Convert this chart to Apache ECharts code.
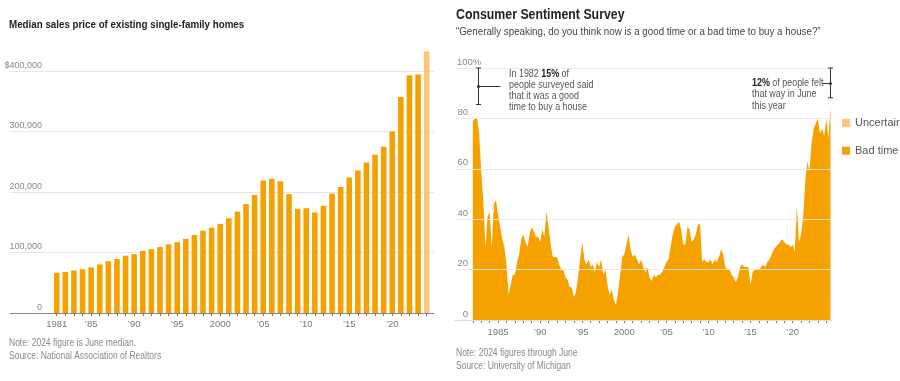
<!DOCTYPE html>
<html><head><meta charset="utf-8">
<script src="https://cdn.jsdelivr.net/npm/echarts@6/dist/echarts.min.js"></script>
<style>html,body{margin:0;padding:0;background:#fff}#c{width:900px;height:381px}</style>
</head><body><div id="c"></div>
<script>
// ---------- Left chart: median sales price ----------
const priceYears = [1981,1982,1983,1984,1985,1986,1987,1988,1989,1990,1991,1992,1993,1994,1995,1996,1997,1998,1999,2000,2001,2002,2003,2004,2005,2006,2007,2008,2009,2010,2011,2012,2013,2014,2015,2016,2017,2018,2019,2020,2021,2022,2023,2024];
const medianPrice = [66400,67800,70300,72400,75500,80300,85600,89300,94600,97300,102700,105500,109100,113500,117000,122600,129000,136000,141200,147300,156600,167600,180200,195200,219000,221900,217900,196600,172100,173100,166200,177200,197400,208300,223900,235500,248800,261600,274600,300200,357100,392900,394100,432700];
const priceLabelYears = [1981,1985,1990,1995,2000,2005,2010,2015,2020];

// ---------- Right chart: consumer sentiment (quarterly, from 1982) ----------
const sentimentStartYear = 1982;
const badTime = [
 79,80,80.5,74, 59,47,29,41, 43,29,46,47.5, 42,37,32,29, 22,10,14,18,
 18,23,26,32, 34,31,29,34, 37,35,33,33, 31,36,33,43, 37,30,25,25,
 25,22,20,20, 17,16,13,13, 9,11,17,24, 31,24,22,24, 21,22,19,23,
 21,24,18,20, 14,10,12,8, 6,11,18,25, 26,30,34,28, 25,26,24,22,
 24,21,19,21, 17,15.5,18,17, 18,18,19,21, 23,24,29,34, 37,38,39,36,
 30,30,37,36, 31,32,34,38, 38,23,24,23, 23,24,22,24, 23,25,28,26,
 21,20,20,18, 17,15,17,21, 22,21,21,21, 14,19,20,20, 20,21,22,21,
 23,24,26,28, 29,30,31,32, 31,30,30,29, 30,27,45,31, 34,41,55,63,
 59,70,76,78, 80,74,76,73, 80,72,84];
const uncertain = [
 3,3,4,3, 4,3,3,4, 3,3,4,4, 3,3,2,3, 2,2,3,2,
 3,2,3,4, 3,3,4,3, 4,3,3,4, 3,4,3,5, 4,3,3,3,
 3,2,3,2, 3,2,3,2, 2,3,3,4, 4,3,3,4, 3,3,3,4,
 4,3,3,3, 3,3,3,3, 2,3,4,4, 4,4,5,4, 4,4,3,4,
 4,3,3,4, 3,3,3,3, 3,3,3,3, 3,3,4,4, 4,4,4,4,
 3,4,4,4, 4,3,4,5, 4,3,3,3, 3,3,3,3, 3,3,4,3,
 3,3,2,3, 2,2,3,3, 3,3,3,3, 2,3,3,2, 3,3,2,3,
 3,3,3,3, 3,3,4,4, 3,3,3,3, 3,3,4,3, 3,4,4,4,
 3,4,4,4, 4,3,4,3, 4,3,4];
const sentLabelYears = [1985,1990,1995,2000,2005,2010,2015,2020];
const sentTickYears = [1982,1983,1984,1985,1986,1987,1988,1989,1990,1991,1992,1993,1994,1995,1996,1997,1998,1999,2000,2001,2002,2003,2004,2005,2006,2007,2008,2009,2010,2011,2012,2013,2014,2015,2016,2017,2018,2019,2020,2021,2022,2023,2024];
// annotation brackets: [year, top-of-stack %, side]
const goodTimeBrackets = [[1982.63, 85.5, 1], [2024.47, 88.2, -1]];

const FONT = '"Liberation Sans", Arial, sans-serif';
const ORANGE = '#F5A200';
const LIGHT = '#F9C67B';
const NARROW = 0.85;

const quarterX = badTime.map((_, i) => sentimentStartYear + i * 0.25);

function txt(x, y, style){
  return {type: 'text', x: x, y: y, scaleX: NARROW, scaleY: 1, silent: true,
          style: Object.assign({x: 0, y: 0, verticalAlign: 'top', align: 'left'}, style)};
}

const chart = echarts.init(document.getElementById('c'), null, {renderer: 'canvas'});
chart.setOption({
  animation: false,
  textStyle: {fontFamily: FONT},
  grid: [
    {left: 10, right: 466, top: 71, bottom: 68},
    {left: 456, right: 69, top: 68, bottom: 61}
  ],
  xAxis: [
    {gridIndex: 0, type: 'value', min: 1975.57, max: 2024.85,
     axisLine: {show: true, lineStyle: {color: '#888', width: 1}},
     axisTick: {show: true, length: 3, lineStyle: {color: '#777'}, customValues: priceYears},
     axisLabel: {show: true, customValues: priceLabelYears, color: '#777', fontSize: 9.5, margin: 6, fontFamily: FONT,
       formatter: v => (v === 1981 || v === 2000) ? String(v) : '\u2019' + String(v).slice(2)},
     splitLine: {show: false}},
    {gridIndex: 1, type: 'value', min: 1980, max: 2024.56,
     axisLine: {show: true, lineStyle: {color: '#888', width: 1}},
     axisTick: {show: true, length: 3, lineStyle: {color: '#777'}, customValues: sentTickYears},
     axisLabel: {show: true, customValues: sentLabelYears, color: '#777', fontSize: 9.5, margin: 7, fontFamily: FONT,
       formatter: v => (v === 1985 || v === 2000) ? String(v) : '\u2019' + String(v).slice(2)},
     splitLine: {show: false}}
  ],
  yAxis: [
    {gridIndex: 0, type: 'value', min: 0, max: 400000, interval: 100000,
     axisLine: {show: false}, axisTick: {show: false},
     axisLabel: {inside: true, align: 'right', margin: 32, verticalAlign: 'bottom', padding: [0,0,1,0],
       color: '#888', fontSize: 9, fontFamily: FONT,
       formatter: v => v === 400000 ? '$400,000' : v.toLocaleString('en-US')},
     splitLine: {show: true, lineStyle: {color: '#e6e6e6', width: 1}}},
    {gridIndex: 1, type: 'value', min: 0, max: 100, interval: 20, z: 5,
     axisLine: {show: false}, axisTick: {show: false},
     axisLabel: {inside: true, align: 'right', margin: 12, verticalAlign: 'bottom', padding: [0,0,1,0],
       color: '#888', fontSize: 9.5, fontFamily: FONT, customValues: [0,20,40,60,80]},
     splitLine: {show: true, lineStyle: {color: 'rgba(232,232,232,0.9)', width: 1}}},
    {gridIndex: 1, type: 'value', min: 0, max: 100, position: 'left',
     axisLine: {show: false}, axisTick: {show: false}, splitLine: {show: false},
     axisLabel: {inside: true, align: 'left', margin: 1, verticalAlign: 'bottom', padding: [0,0,1,0],
       color: '#888', fontSize: 9.5, fontFamily: FONT, customValues: [100], formatter: '{value}%'}}
  ],
  legend: {
    data: ['Uncertain', 'Bad time'], orient: 'vertical', left: 842, top: 116, padding: 0,
    itemWidth: 8, itemHeight: 8, itemGap: 13.7, icon: 'rect', selectedMode: false,
    textStyle: {color: '#555', fontSize: 11, lineHeight: 14, fontFamily: FONT}
  },
  series: [
    {type: 'bar', name: 'Median price', xAxisIndex: 0, yAxisIndex: 0, clip: false, barWidth: 5.6,
     data: priceYears.map((y, i) => [y, medianPrice[i]]),
     itemStyle: {color: p => p.value[0] === 2024 ? LIGHT : ORANGE}},
    {type: 'line', name: 'Bad time', xAxisIndex: 1, yAxisIndex: 1, stack: 'sent', symbol: 'none',
     lineStyle: {width: 0}, areaStyle: {color: ORANGE, opacity: 1}, itemStyle: {color: ORANGE},
     data: quarterX.map((x, i) => [x, badTime[i]])},
    {type: 'line', name: 'Uncertain', xAxisIndex: 1, yAxisIndex: 1, stack: 'sent', symbol: 'none',
     lineStyle: {width: 0}, areaStyle: {color: LIGHT, opacity: 1}, itemStyle: {color: LIGHT},
     data: quarterX.map((x, i) => [x, uncertain[i]])},
    {type: 'custom', name: 'brackets', xAxisIndex: 1, yAxisIndex: 1, silent: true, z: 10, clip: false,
     data: goodTimeBrackets,
     renderItem: function(params, api){
       const x = api.value(0), low = api.value(1), dir = api.value(2);
       const top = api.coord([x, 100]), bot = api.coord([x, low]);
       const cx = Math.round(top[0]) + 0.5;
       const midY = Math.round((top[1] + bot[1]) / 2) + 0.5;
       const len = dir > 0 ? 22 : 8.5;
       const st = {stroke: '#333', lineWidth: 1};
       return {type: 'group', children: [
         {type: 'line', shape: {x1: cx, y1: top[1], x2: cx, y2: bot[1]}, style: st},
         {type: 'line', shape: {x1: cx - 2.5, y1: top[1], x2: cx + 2.5, y2: top[1]}, style: st},
         {type: 'line', shape: {x1: cx - 2.5, y1: bot[1], x2: cx + 2.5, y2: bot[1]}, style: st},
         {type: 'line', shape: {x1: cx, y1: midY, x2: cx + dir * len, y2: midY}, style: st},
         {type: 'circle', shape: {cx: cx, cy: midY, r: 1.6}, style: {fill: '#333'}}
       ]};
     }}
  ],
  graphic: [
    txt(9, 19, {text: 'Median sales price of existing single-family homes', font: 'bold 11.5px ' + FONT, fill: '#222'}),
    txt(456, 7, {text: 'Consumer Sentiment Survey', font: 'bold 14.5px ' + FONT, fill: '#222'}),
    txt(456, 26, {text: '\u201CGenerally speaking, do you think now is a good time or a bad time to buy a house?\u201D', font: '11.5px ' + FONT, fill: '#444'}),
    txt(9, 337, {text: 'Note: 2024 figure is June median.\nSource: National Association of Realtors', font: '10px ' + FONT, fill: '#888', lineHeight: 12.5}),
    txt(456, 347, {text: 'Note: 2024 figures through June\nSource: University of Michigan', font: '10px ' + FONT, fill: '#888', lineHeight: 12.5}),
    txt(509, 69, {
      text: 'In 1982 {b|15%} of\npeople surveyed said\nthat it was a good\ntime to buy a house',
      font: '10.5px ' + FONT, fill: '#555', lineHeight: 11,
      rich: {b: {fontWeight: 'bold', fill: '#222', fontSize: 10.5, fontFamily: FONT}}}),
    txt(752, 77, {
      text: '{b|12%} of people felt\nthat way in June\nthis year',
      font: '10.5px ' + FONT, fill: '#555', lineHeight: 11.5,
      rich: {b: {fontWeight: 'bold', fill: '#222', fontSize: 10.5, fontFamily: FONT}}})
  ]
});
</script></body></html>
